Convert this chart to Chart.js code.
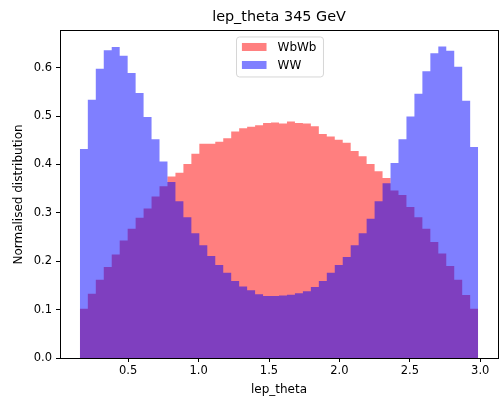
<!DOCTYPE html>
<html>
<head>
<meta charset="utf-8">
<title>lep_theta 345 GeV</title>
<script src="https://cdn.jsdelivr.net/npm/chart.js@4/dist/chart.umd.min.js"></script>
<style>
  html, body { margin: 0; padding: 0; background: #fff; }
  canvas { display: block; }
</style>
</head>
<body>
<canvas id="chart" width="500" height="398"></canvas>
<script>
// Text
const TITLE = 'lep_theta 345 GeV';
const X_LABEL = 'lep_theta';
const Y_LABEL = 'Normalised distribution';
const SERIES_NAMES = ['WbWb', 'WW'];

// Histogram binning (lep_theta, radians)
const BIN_LOW = 0.157;
const BIN_HIGH = 2.985;
const BIN_COUNT = 50;

// Normalised bin contents
const WBWB = [
  0.102, 0.133, 0.162, 0.188, 0.214, 0.243, 0.267, 0.290, 0.309, 0.334,
  0.355, 0.375, 0.383, 0.401, 0.422, 0.443, 0.443, 0.447, 0.454, 0.468,
  0.475, 0.478, 0.481, 0.486, 0.487, 0.485, 0.489, 0.486, 0.485, 0.479,
  0.463, 0.458, 0.451, 0.445, 0.428, 0.417, 0.401, 0.386, 0.372, 0.346,
  0.337, 0.312, 0.291, 0.267, 0.240, 0.216, 0.190, 0.162, 0.130, 0.102
];
const WW = [
  0.432, 0.534, 0.598, 0.636, 0.643, 0.625, 0.589, 0.548, 0.498, 0.452,
  0.406, 0.364, 0.324, 0.291, 0.258, 0.233, 0.211, 0.192, 0.176, 0.159,
  0.148, 0.140, 0.132, 0.128, 0.128, 0.129, 0.131, 0.134, 0.138, 0.147,
  0.159, 0.176, 0.192, 0.209, 0.233, 0.258, 0.288, 0.324, 0.361, 0.403,
  0.452, 0.499, 0.546, 0.593, 0.630, 0.644, 0.635, 0.602, 0.532, 0.436
];

// Axis ticks
const X_TICKS = [0.5, 1.0, 1.5, 2.0, 2.5, 3.0];
const Y_TICKS = [0.0, 0.1, 0.2, 0.3, 0.4, 0.5, 0.6];

const EDGES = Array.from({ length: BIN_COUNT + 1 },
  (_, i) => BIN_LOW + i * (BIN_HIGH - BIN_LOW) / BIN_COUNT);

// One point per bin left edge, plus the closing right edge, drawn as a step outline
function histPoints(values) {
  const pts = values.map((v, i) => ({ x: EDGES[i], y: v }));
  pts.push({ x: EDGES[values.length], y: values[values.length - 1] });
  return pts;
}

const FONT = "'DejaVu Sans', 'Liberation Sans', sans-serif";
Chart.defaults.font.family = FONT;
Chart.defaults.color = '#000';

const RED = 'rgba(255, 0, 0, 0.5)';
const BLUE = 'rgba(0, 0, 255, 0.5)';

// Axes frame (all four spines)
const framePlugin = {
  id: 'frame',
  afterDatasetsDraw(chart) {
    const { ctx, chartArea: a } = chart;
    ctx.save();
    ctx.strokeStyle = '#000';
    ctx.lineWidth = 1;
    const l = Math.floor(a.left) + 0.5, t = Math.floor(a.top) + 0.5;
    const r = Math.floor(a.right) + 0.5, b = Math.floor(a.bottom) + 0.5;
    ctx.strokeRect(l, t, r - l, b - t);
    ctx.restore();
  }
};

// Framed legend inside the plot, upper centre
const legendPlugin = {
  id: 'insideLegend',
  afterDraw(chart) {
    const { ctx, chartArea: a } = chart;
    const fs = 12;
    ctx.save();
    ctx.font = fs + 'px ' + FONT;
    const items = chart.data.datasets.map(d => ({ label: d.label, color: d.backgroundColor }));
    const textW = Math.max(...items.map(it => ctx.measureText(it.label).width));
    const padL = 5.4, handleW = 24.6, gap = 11, padR = 7;
    const w = padL + handleW + gap + textW + padR;
    const h = 40;
    const x = (a.left + a.right) / 2 - w / 2 + 1;
    const y = a.top + 6;
    // box
    const r = 3;
    ctx.beginPath();
    ctx.moveTo(x + r, y);
    ctx.lineTo(x + w - r, y);
    ctx.arcTo(x + w, y, x + w, y + r, r);
    ctx.lineTo(x + w, y + h - r);
    ctx.arcTo(x + w, y + h, x + w - r, y + h, r);
    ctx.lineTo(x + r, y + h);
    ctx.arcTo(x, y + h, x, y + h - r, r);
    ctx.lineTo(x, y + r);
    ctx.arcTo(x, y, x + r, y, r);
    ctx.closePath();
    ctx.fillStyle = 'rgba(255,255,255,0.8)';
    ctx.fill();
    ctx.strokeStyle = '#d6d6d6';
    ctx.lineWidth = 1;
    ctx.stroke();
    // entries
    items.forEach((it, i) => {
      const cy = y + 10 + i * 18;
      ctx.fillStyle = it.color;
      ctx.fillRect(x + padL, cy - 4, handleW, 8);
      ctx.fillStyle = '#000';
      ctx.textBaseline = 'middle';
      ctx.textAlign = 'left';
      ctx.fillText(it.label, x + padL + handleW + gap, cy + 0.5);
    });
    ctx.restore();
  }
};

const fmt = v => Number(v).toFixed(1);

new Chart(document.getElementById('chart'), {
  type: 'line',
  data: {
    datasets: [
      {
        label: SERIES_NAMES[0],
        data: histPoints(WBWB),
        stepped: 'before',
        fill: 'origin',
        backgroundColor: RED,
        borderColor: 'transparent',
        borderWidth: 0,
        pointRadius: 0,
        order: 1
      },
      {
        label: SERIES_NAMES[1],
        data: histPoints(WW),
        stepped: 'before',
        fill: 'origin',
        backgroundColor: BLUE,
        borderColor: 'transparent',
        borderWidth: 0,
        pointRadius: 0,
        order: 0
      }
    ]
  },
  options: {
    responsive: false,
    animation: false,
    events: [],
    layout: { padding: { left: 0, right: 2, top: 0, bottom: 0 } },
    plugins: {
      legend: { display: false },
      tooltip: { enabled: false },
      title: {
        display: true,
        text: TITLE,
        fullSize: false,
        color: '#000',
        font: { size: 14.4, weight: 'normal' },
        padding: { top: 8.4, bottom: 5.3 }
      }
    },
    scales: {
      x: {
        type: 'linear',
        min: 0.016,
        max: 3.126,
        afterBuildTicks: s => { s.ticks = X_TICKS.map(v => ({ value: v })); },
        afterFit: s => { s.height = 40; },
        ticks: {
          autoSkip: false, maxRotation: 0, padding: 2,
          font: { size: 11.5 }, color: '#000', callback: fmt
        },
        grid: {
          display: true, drawOnChartArea: false, drawTicks: true,
          tickLength: 4, tickColor: '#000', tickWidth: 1
        },
        border: { display: false },
        title: {
          display: true, text: X_LABEL, color: '#000',
          font: { size: 12 }, padding: { top: 0, bottom: 1 }
        }
      },
      y: {
        type: 'linear',
        min: 0,
        max: 0.676,
        afterBuildTicks: s => { s.ticks = Y_TICKS.map(v => ({ value: v })); },
        afterFit: s => { s.width = 60; },
        ticks: {
          autoSkip: false, padding: 4,
          font: { size: 11.5 }, color: '#000', callback: fmt
        },
        grid: {
          display: true, drawOnChartArea: false, drawTicks: true,
          tickLength: 4, tickColor: '#000', tickWidth: 1
        },
        border: { display: false },
        title: {
          display: true, text: Y_LABEL, color: '#000',
          font: { size: 12 }, padding: { top: 12, bottom: 0 }
        }
      }
    }
  },
  plugins: [framePlugin, legendPlugin]
});
</script>
</body>
</html>
